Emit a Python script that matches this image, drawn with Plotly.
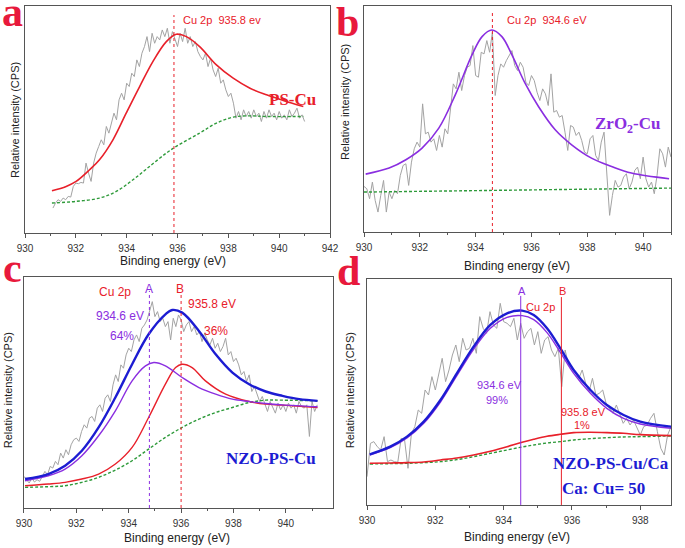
import numpy as np
import plotly.graph_objects as go

# ---------------- data (arbitrary intensity units) ----------------
# panel a : PS-Cu
a_raw_y = [75, 90, 100, 95, 105, 100, 110, 108, 140, 150, 148, 152, 150, 210, 180, 155, 210, 240,
           260, 280, 265, 320, 300, 330, 360, 340, 400, 420, 400, 450, 440, 480, 470, 520, 500, 540,
           560, 590, 545, 600, 570, 590, 580, 610, 590, 615, 570, 605, 580, 560, 600, 575, 615, 570,
           590, 560, 575, 545, 530, 520, 540, 500, 525, 490, 470, 495, 450, 460, 430, 410, 420, 390,
           345, 365, 340, 370, 350, 365, 345, 370, 350, 360, 335, 365, 345, 370, 350, 360, 340, 365,
           345, 355, 340, 370, 350, 360, 375, 345, 355, 335]
a_raw_start = 931.1
a_fit_x = [931.06, 931.62, 932.01, 932.54, 932.93, 933.46, 933.98, 934.51, 935.03, 935.56,
           935.95, 936.35, 936.87, 937.53, 938.19, 938.85, 939.50, 940.16, 940.95]
a_fit_y = [127, 140, 155, 190, 220, 280, 360, 440, 515, 575, 597, 590, 560, 505, 465, 435, 415, 398, 380]
a_bg_x = [931.06, 932.01, 932.93, 933.59, 934.25, 934.90, 935.56, 935.95, 936.87, 937.53,
          938.19, 938.85, 939.50, 940.95]
a_bg_y = [90, 95, 105, 125, 160, 200, 240, 260, 300, 330, 348, 352, 350, 350]
a_peak = [935.86]

# panel b : ZrO2-Cu
b_raw_y = [137, 130, 100, 150, 95, 60, 110, 155, 60, 120, 100, 125, 115, 170, 200, 205, 140, 210,
           250, 270, 255, 385, 295, 300, 270, 280, 245, 290, 255, 310, 295, 380, 445, 430, 480, 425,
           470, 495, 500, 560, 470, 465, 540, 535, 575, 540, 600, 410, 470, 505, 495, 515, 530, 545,
           500, 485, 510, 495, 450, 440, 470, 455, 420, 395, 430, 415, 380, 475, 360, 365, 345, 350,
           300, 245, 320, 315, 290, 300, 275, 240, 235, 280, 290, 230, 215, 270, 300, 180, 50, 110,
           155, 135, 140, 165, 175, 130, 150, 185, 195, 160, 225, 160, 135, 150, 115, 170, 250, 235,
           195, 255, 225]
b_raw_start = 930.0
b_fit_x = [930.06, 930.9, 931.5, 932.08, 932.68, 933.27, 933.87, 934.23, 934.58, 934.94,
           935.3, 935.77, 936.25, 936.85, 937.44, 938.15, 938.87, 939.58, 940.93]
b_fit_y = [174, 192, 217, 252, 312, 412, 532, 587, 607, 587, 532, 447, 377, 307, 262, 222, 197, 177, 160]
b_bg_x = [930.0, 941.0]
b_bg_y = [120, 132]
b_peak = [934.6]

# panel c : NZO-PS-Cu
c_raw_y = [95, 85, 75, 90, 78, 85, 80, 95, 110, 100, 125, 120, 140, 130, 165, 150, 175, 160, 190,
           205, 210, 200, 230, 250, 240, 270, 275, 260, 300, 310, 290, 330, 340, 320, 370, 400, 380,
           430, 420, 460, 480, 470, 505, 520, 500, 540, 550, 565, 590, 620, 575, 590, 560, 570, 545,
           560, 505, 570, 545, 580, 565, 530, 550, 560, 530, 545, 520, 530, 500, 525, 505, 490, 510,
           480, 495, 470, 485, 510, 460, 470, 440, 450, 430, 400, 410, 380, 400, 350, 365, 340, 320,
           335, 310, 290, 320, 300, 285, 315, 295, 310, 290, 315, 300, 310, 285, 320, 305, 300, 310,
           215, 320, 290, 310]
c_raw_start = 930.0
c_env_x = [930.04, 930.93, 931.57, 932.21, 932.85, 933.49, 934.13, 934.76, 935.40, 935.66,
           936.04, 936.68, 937.32, 937.96, 938.60, 939.23, 939.87, 940.51, 941.21]
c_env_y = [87, 102, 127, 172, 242, 332, 432, 522, 582, 595, 587, 532, 462, 407, 372, 350, 337, 327, 322]
c_a_x = [930.04, 930.93, 931.57, 932.21, 932.85, 933.49, 934.13, 934.64, 934.96, 935.40,
         936.04, 936.68, 937.32, 937.96, 938.60, 939.23, 939.87, 941.21]
c_a_y = [82, 97, 117, 157, 217, 292, 382, 427, 437, 427, 392, 362, 342, 327, 320, 314, 310, 304]
c_b_x = [930.04, 930.93, 931.57, 932.21, 932.85, 933.49, 934.13, 934.76, 935.40, 935.79,
         936.04, 936.42, 936.93, 937.70, 938.60, 939.23, 939.87, 941.21]
c_b_y = [67, 72, 77, 87, 102, 132, 182, 272, 372, 422, 432, 422, 382, 342, 320, 312, 309, 302]
c_bg_x = [930.04, 930.93, 931.57, 932.21, 932.85, 933.49, 934.13, 934.76, 935.40, 936.04,
          936.68, 937.32, 937.96, 938.60, 939.23, 939.87, 941.21]
c_bg_y = [62, 64, 67, 77, 92, 114, 142, 177, 212, 242, 267, 287, 302, 317, 324, 324, 322]
c_peaks = [934.79, 936.0]

# panel d : NZO-PS-Cu/Ca
d_raw_y = [85, 185, 190, 175, 165, 205, 130, 135, 130, 128, 200, 195, 110, 215, 235, 285, 275, 345,
           330, 385, 345, 390, 440, 370, 405, 450, 480, 430, 500, 465, 470, 500, 455, 565, 530, 515,
           580, 540, 530, 605, 550, 545, 535, 560, 495, 545, 500, 520, 530, 480, 520, 455, 495, 505,
           465, 445, 470, 355, 465, 420, 410, 400, 380, 405, 365, 340, 380, 330, 335, 345, 305, 290,
           275, 300, 270, 245, 260, 240, 255, 230, 210, 235, 240, 260, 275, 220, 170, 150, 210, 235]
d_raw_start = 930.0
d_fit_x = [930.08, 930.68, 931.17, 931.66, 932.15, 932.63, 933.12, 933.61, 934.10, 934.54,
           934.88, 935.27, 935.66, 936.05, 936.54, 937.02, 937.51, 938.0, 938.91]
d_env_y = [152, 175, 205, 250, 315, 395, 475, 540, 575, 583, 570, 530, 470, 405, 345, 300, 270, 250, 235]
d_a_y = [150, 172, 201, 245, 309, 388, 467, 530, 563, 568, 556, 517, 458, 395, 335, 290, 260, 243, 230]
d_b_y = [125, 126, 127, 129, 135, 141, 150, 161, 175, 188, 197, 206, 212, 217, 218, 217, 215, 211, 208]
d_bg_y = [123, 124, 125, 127, 130, 136, 145, 155, 165, 174, 180, 186, 190, 195, 199, 202, 204, 205, 207]
d_peaks = [934.5, 935.69]

RED = '#e8202a'
PURPLE = '#8a2ee0'
BLUE = '#1c1cd2'
GREEN = '#2e9a3a'
GREY = '#a3a3a3'
LETTER = '#e8193c'
SANS = 'Liberation Sans, Arial'
SERIF = 'Liberation Serif, Times New Roman'


def raw_x(start, values):
    return np.round(start + 0.1 * np.arange(len(values)), 2)


fig = go.Figure()


def add_line(x, y, ax, color, width, dash='solid', smooth=True):
    fig.add_trace(go.Scatter(x=x, y=y, xaxis='x' + ax, yaxis='y' + ax, mode='lines',
                             line=dict(color=color, width=width, dash=dash,
                                       shape='spline' if smooth else 'linear', smoothing=1.0),
                             showlegend=False, hoverinfo='skip'))


# panel a
add_line(raw_x(a_raw_start, a_raw_y), a_raw_y, '', GREY, 1, smooth=False)
add_line(a_bg_x, a_bg_y, '', GREEN, 1.4, dash='3px,2px')
add_line(a_fit_x, a_fit_y, '', RED, 1.6)
# panel b
add_line(raw_x(b_raw_start, b_raw_y), b_raw_y, '2', GREY, 1, smooth=False)
add_line(b_bg_x, b_bg_y, '2', GREEN, 1.4, dash='3px,2px', smooth=False)
add_line(b_fit_x, b_fit_y, '2', PURPLE, 1.6)
# panel c
add_line(raw_x(c_raw_start, c_raw_y), c_raw_y, '3', GREY, 1, smooth=False)
add_line(c_bg_x, c_bg_y, '3', GREEN, 1.4, dash='3px,2px')
add_line(c_b_x, c_b_y, '3', RED, 1.4)
add_line(c_a_x, c_a_y, '3', PURPLE, 1.4)
add_line(c_env_x, c_env_y, '3', BLUE, 2.4)
# panel d
add_line(raw_x(d_raw_start, d_raw_y), d_raw_y, '4', GREY, 1, smooth=False)
add_line(d_fit_x, d_bg_y, '4', GREEN, 1.4, dash='3px,2px')
add_line(d_fit_x, d_b_y, '4', RED, 1.6)
add_line(d_fit_x, d_a_y, '4', PURPLE, 1.4)
add_line(d_fit_x, d_env_y, '4', BLUE, 2.4)

# vertical peak markers
vlines = [('', a_peak[0], RED, 'dot', 0.96), ('2', b_peak[0], RED, 'dot', 0.97),
          ('3', c_peaks[0], PURPLE, 'dot', 0.94), ('3', c_peaks[1], RED, 'dot', 0.93),
          ('4', d_peaks[0], PURPLE, 'solid', 0.925), ('4', d_peaks[1], RED, 'solid', 0.92)]
for ax, xv, col, dash, top in vlines:
    fig.add_shape(type='line', xref='x' + ax, yref='y' + ax + ' domain', x0=xv, x1=xv, y0=0, y1=top,
                  line=dict(color=col, width=1, dash=dash))


def note(ax, x, y, text, color, size, serif=False, bold=False, xanchor='center'):
    if bold:
        text = '<b>' + text + '</b>'
    fig.add_annotation(xref='x' + ax, yref='y' + ax, x=x, y=y, text=text, showarrow=False,
                       xanchor=xanchor, yanchor='middle',
                       font=dict(color=color, size=size, family=SERIF if serif else SANS))


note('', 936.15, 639, 'Cu 2p\u00a0\u00a0935.8 ev', RED, 11, xanchor='left')
note('', 940.52, 402, 'PS-Cu', RED, 17, serif=True, bold=True)
note('2', 935.04, 637, 'Cu 2p\u00a0\u00a0934.6 eV', RED, 11, xanchor='left')
note('2', 939.44, 322, 'ZrO<sub>2</sub>-Cu', PURPLE, 17, serif=True, bold=True)
note('3', 933.49, 650, 'Cu 2p', RED, 12)
note('3', 934.79, 657, 'A', PURPLE, 12)
note('3', 935.95, 657, 'B', RED, 12)
note('3', 937.19, 612, '935.8 eV', RED, 12)
note('3', 933.68, 577, '934.6 eV', PURPLE, 12)
note('3', 933.74, 517, '64%', PURPLE, 12)
note('3', 937.32, 532, '36%', RED, 12)
note('3', 939.43, 150, 'NZO-PS-Cu', BLUE, 17, serif=True, bold=True)
note('4', 934.54, 643, 'A', PURPLE, 11)
note('4', 935.71, 643, 'B', RED, 11)
note('4', 935.07, 595, 'Cu 2p', RED, 11)
note('4', 933.88, 360, '934.6 eV', PURPLE, 11)
note('4', 933.80, 315, '99%', PURPLE, 11)
note('4', 936.34, 280, '935.8 eV', RED, 11)
note('4', 936.29, 240, '1%', RED, 11)
note('4', 937.14, 123, 'NZO-PS-Cu/Ca', BLUE, 17, serif=True, bold=True)
note('4', 936.93, 48, 'Ca: Cu= 50', BLUE, 17, serif=True, bold=True)

# panel letters
for lx, ly, lt in [(0.018, 0.978, 'a'), (0.508, 0.960, 'b'), (0.018, 0.511, 'c'), (0.509, 0.505, 'd')]:
    fig.add_annotation(xref='paper', yref='paper', x=lx, y=ly, text='<b>' + lt + '</b>',
                       showarrow=False, xanchor='center', yanchor='middle',
                       font=dict(color=LETTER, size=42, family=SERIF))

# axis titles (placed in paper space so the fixed panel layout is kept)
for tx, ty in [(0.2526, 0.5245), (0.7547, 0.5150), (0.2584, 0.0185), (0.7547, 0.0205)]:
    fig.add_annotation(xref='paper', yref='paper', x=tx, y=ty, text='Binding energy (eV)',
                       showarrow=False, xanchor='center', yanchor='middle',
                       font=dict(family=SANS, size=12, color='#222222'))
for tx, ty in [(0.0219, 0.781), (0.5036, 0.814), (0.0117, 0.288), (0.511, 0.288)]:
    fig.add_annotation(xref='paper', yref='paper', x=tx, y=ty, text='Relative intensity (CPS)',
                       showarrow=False, xanchor='center', yanchor='middle', textangle=-90,
                       font=dict(family=SANS, size=11, color='#222222'))


def xax(dom, rng, anchor):
    return dict(domain=dom, range=rng, anchor=anchor, showline=True, mirror=True,
                linecolor='#555555', linewidth=1, showgrid=False, zeroline=False,
                automargin=False,
                ticks='outside', ticklen=4, tickcolor='#555555', dtick=2, tick0=930,
                ticklabelstandoff=2,
                minor=dict(ticks='outside', ticklen=2, dtick=1, tickcolor='#555555'),
                tickfont=dict(family=SANS, size=10, color='#333333'))


def yax(dom, rng, anchor):
    return dict(domain=dom, range=rng, anchor=anchor, showline=True, mirror=True,
                linecolor='#555555', linewidth=1, showgrid=False, zeroline=False,
                automargin=False, showticklabels=False, ticks='')


fig.update_layout(
    width=685, height=548, margin=dict(l=0, r=0, t=0, b=0),
    paper_bgcolor='white', plot_bgcolor='white',
    xaxis=xax([0.0365, 0.4818], [930, 942], 'y'),
    yaxis=yax([0.5748, 0.9891], [0, 682], 'x'),
    xaxis2=xax([0.5314, 0.9796], [930, 941], 'y2'),
    yaxis2=yax([0.5766, 0.9891], [0, 679], 'x2'),
    xaxis3=xax([0.0350, 0.4861], [930, 941.8], 'y3'),
    yaxis3=yax([0.0730, 0.4945], [0, 694], 'x3'),
    xaxis4=xax([0.5358, 0.9796], [930, 938.9], 'y4'),
    yaxis4=yax([0.0785, 0.4909], [0, 678], 'x4'),
)

# drop the page's default body margin so the 685x548 figure sits at the window origin
fig.write_html('out.html', config={'displayModeBar': False},
               post_script="document.body.style.margin='0';")
